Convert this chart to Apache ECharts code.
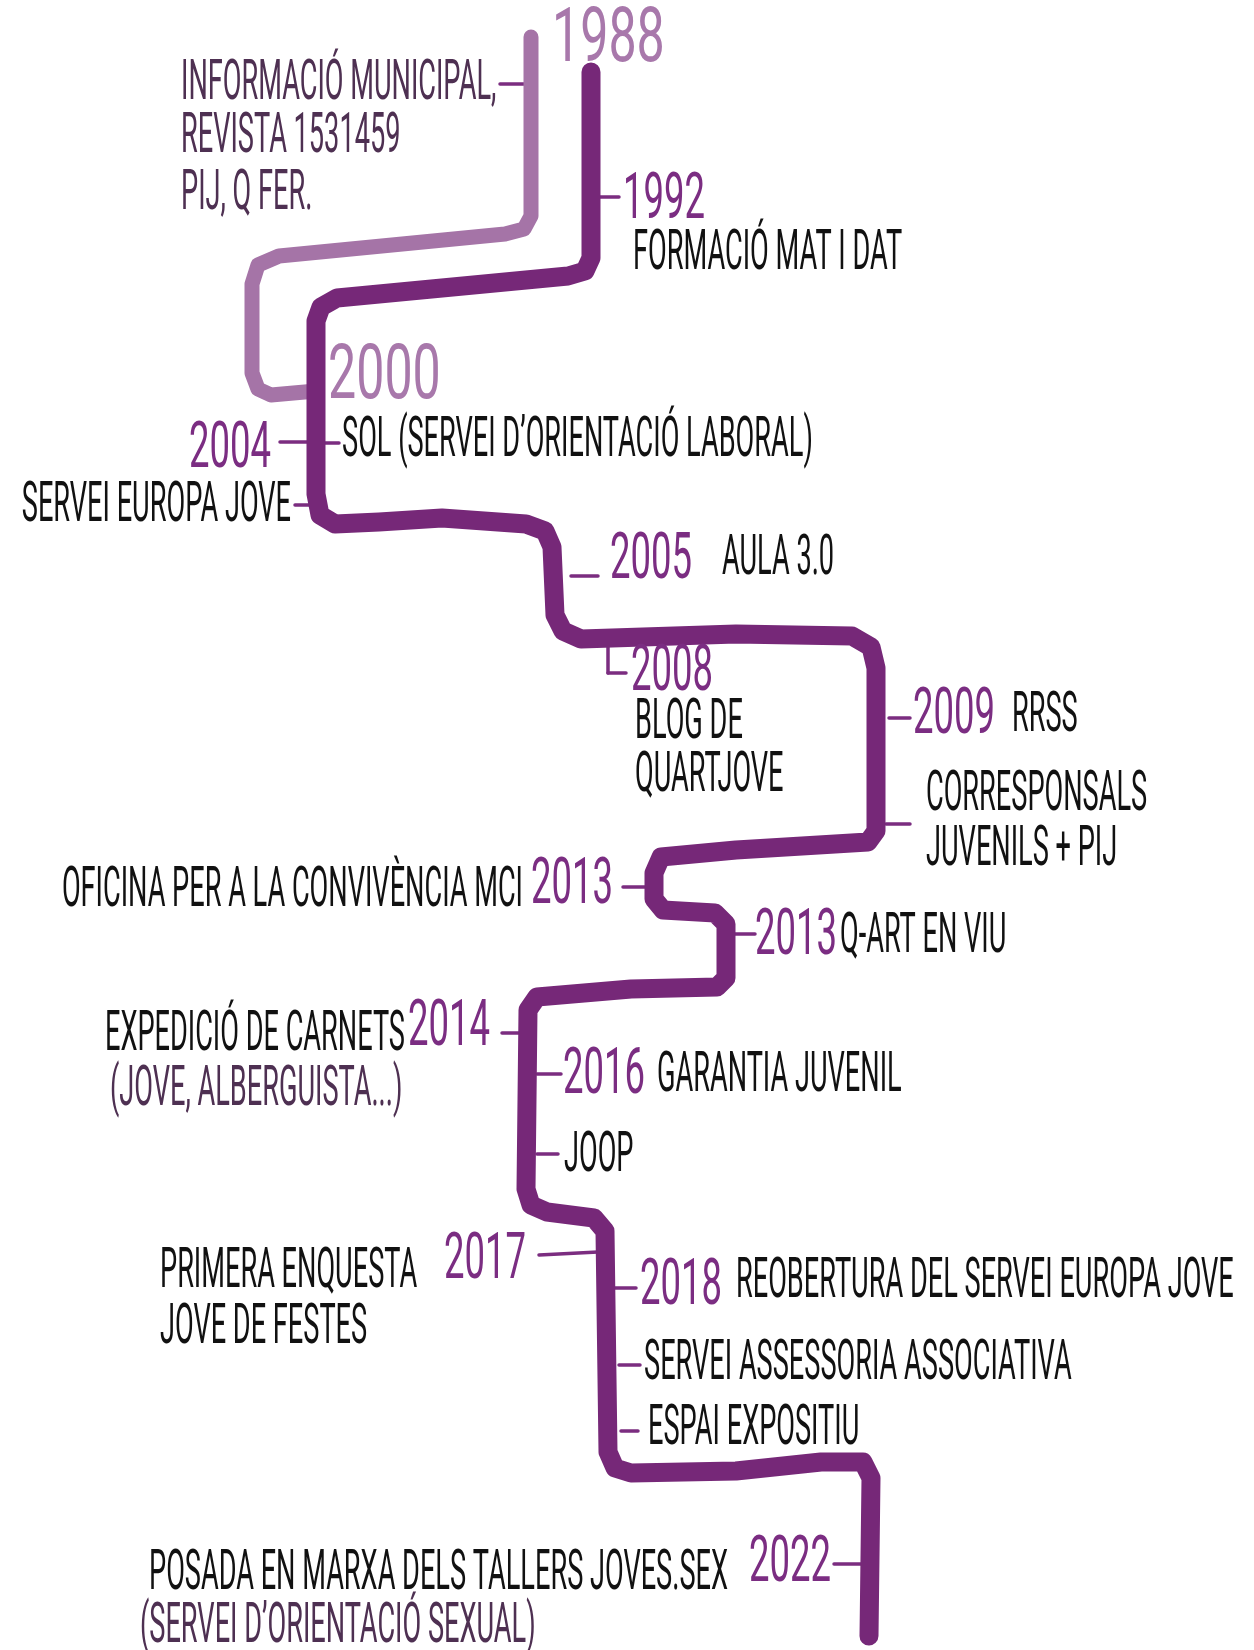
<!DOCTYPE html>
<html>
<head>
<meta charset="utf-8">
<script src="https://cdn.jsdelivr.net/npm/echarts@6/dist/echarts.min.js"></script>
<style>
  html, body { margin: 0; padding: 0; background: #fff; }
  #chart { width: 1254px; height: 1650px; }
</style>
</head>
<body>
<div id="chart"></div>
<script>
// trajecte de fons (1988 → 2000), en coordenades del dibuix
const earlyPath = [
  [531, 37], [531, 216], [524, 229], [505, 234], [279, 256], [258, 265],
  [252, 284], [252, 373], [258, 389], [271, 395], [316, 391]
]

// trajecte principal (1988 → 2022)
const mainPath = [
  [591, 72], [591, 258], [585, 271], [568, 276], [337, 298], [321, 307],
  [316, 321], [316, 494], [320, 515], [335, 524], [379, 522], [442, 518],
  [526, 524], [545, 531], [552, 547], [555, 615], [563, 631], [581, 639],
  [736, 634], [852, 636], [871, 647], [876, 668], [876, 831], [868, 842],
  [736, 850], [661, 857], [654, 873], [654, 899], [663, 910], [715, 913],
  [726, 924], [726, 978], [717, 987], [631, 989], [537, 997], [528, 1010],
  [526, 1189], [531, 1205], [547, 1212], [594, 1218], [605, 1231], [608, 1452],
  [615, 1468], [631, 1473], [736, 1471], [821, 1462], [863, 1462], [871, 1478],
  [869, 1636]
]

// petites marques: x1, y1, x2, y2
const ticks = [
  [500, 84, 531, 84], [594, 197, 619, 197], [280, 442, 308, 442],
  [321, 443, 339, 443], [295, 505, 316, 505], [571, 576, 598, 576],
  [608, 644, 608, 673], [608, 673, 626, 673], [889, 718, 910, 718],
  [886, 824, 910, 824], [623, 887, 652, 887], [731, 934, 755, 934],
  [502, 1033, 526, 1033], [537, 1074, 561, 1074], [537, 1154, 558, 1154],
  [539, 1255, 598, 1252], [613, 1288, 636, 1288], [619, 1365, 640, 1365],
  [621, 1431, 638, 1431], [834, 1564, 868, 1564]
]

// anys: text, x, y, costat d'ancoratge
const startYears = [
  ['1988', 552, 42, 'l'], ['2000', 328, 379, 'l']
]
const years = [
  ['1992', 623, 202, 'l'], ['2004', 271, 451, 'r'], ['2005', 610, 562, 'l'],
  ['2008', 631, 674, 'l'], ['2009', 913, 717, 'l'], ['2013', 613, 887, 'r'],
  ['2013', 755, 938, 'l'], ['2014', 490, 1029, 'r'], ['2016', 563, 1077, 'l'],
  ['2017', 526, 1262, 'r'], ['2018', 640, 1288, 'l'], ['2022', 831, 1565, 'r']
]

// fites
const notes = [
  ['FORMACIÓ MAT I DAT', 633, 255, 'l'],
  ['SOL (SERVEI D\u2019ORIENTACIÓ LABORAL)', 342, 442, 'l'],
  ['SERVEI EUROPA JOVE', 291, 507, 'r'],
  ['AULA 3.0', 722, 560, 'l'],
  ['BLOG DE', 635, 724, 'l'],
  ['QUARTJOVE', 635, 777, 'l'],
  ['RRSS', 1012, 717, 'l'],
  ['CORRESPONSALS', 926, 796, 'l'],
  ['JUVENILS + PIJ', 926, 851, 'l'],
  ['OFICINA PER A LA CONVIVÈNCIA MCI', 523, 892, 'r'],
  ['Q-ART EN VIU', 840, 938, 'l'],
  ['EXPEDICIÓ DE CARNETS', 405, 1036, 'r'],
  ['GARANTIA JUVENIL', 657, 1077, 'l'],
  ['JOOP', 564, 1157, 'l'],
  ['PRIMERA ENQUESTA', 160, 1273, 'l'],
  ['JOVE DE FESTES', 160, 1329, 'l'],
  ['REOBERTURA DEL SERVEI EUROPA JOVE', 736, 1283, 'l'],
  ['SERVEI ASSESSORIA ASSOCIATIVA', 644, 1365, 'l'],
  ['ESPAI EXPOSITIU', 648, 1430, 'l'],
  ['POSADA EN MARXA DELS TALLERS JOVES.SEX', 728, 1575, 'r']
]

// aclariments en to morat fosc
const asides = [
  ['INFORMACIÓ MUNICIPAL,', 181, 85, 'l'],
  ['REVISTA 1531459', 181, 138, 'l'],
  ['PIJ, Q FER.', 181, 195, 'l'],
  ['(JOVE, ALBERGUISTA...)', 110, 1091, 'l'],
  ['(SERVEI D\u2019ORIENTACIÓ SEXUAL)', 140, 1628, 'l']
]

const chart = echarts.init(document.getElementById('chart'))

// serie de textos condensats (lletra de retolador)
const textSeries = (rows, font, color, squeeze, z) => ({
  type: 'custom',
  coordinateSystem: 'cartesian2d',
  z: z,
  silent: true,
  data: rows.map(r => [r[1], r[2]]),
  renderItem: (params, api) => {
    const row = rows[params.dataIndex]
    const p = api.coord([row[1], row[2]])
    const align = row[3] === 'r' ? 'right' : 'left'
    return {
      type: 'text',
      x: p[0],
      y: p[1],
      scaleX: squeeze,
      style: {
        text: row[0],
        font: font,
        fill: color,
        align: align,
        verticalAlign: 'middle',
        textAlign: align,
        textVerticalAlign: 'middle'
      }
    }
  }
})

chart.setOption({
  animation: false,
  backgroundColor: '#ffffff',
  grid: { left: 0, right: 0, top: 0, bottom: 0 },
  xAxis: { type: 'value', min: 0, max: 1254, show: false },
  yAxis: { type: 'value', min: 0, max: 1650, inverse: true, show: false },
  series: [
    {
      type: 'line',
      data: earlyPath,
      symbol: 'none',
      z: 2,
      lineStyle: { color: '#a574a7', width: 15, cap: 'round', join: 'round' }
    },
    {
      type: 'custom',
      z: 1,
      silent: true,
      data: ticks,
      renderItem: (params, api) => {
        const a = api.coord([api.value(0), api.value(1)])
        const b = api.coord([api.value(2), api.value(3)])
        return {
          type: 'line',
          shape: { x1: a[0], y1: a[1], x2: b[0], y2: b[1] },
          style: { stroke: '#7b2d80', lineWidth: 3.5, lineCap: 'round' }
        }
      }
    },
    {
      type: 'line',
      data: mainPath,
      symbol: 'none',
      z: 3,
      lineStyle: { color: '#762878', width: 19, cap: 'round', join: 'round' }
    },
    textSeries(startYears, '400 76px Roboto', '#a878ab', 0.66, 5),
    textSeries(years, '400 64px Roboto', '#7b2d82', 0.57, 5),
    textSeries(notes, '400 56px Roboto', '#111111', 0.485, 5),
    textSeries(asides, '400 56px Roboto', '#4e3052', 0.485, 5)
  ]
})
</script>
</body>
</html>
